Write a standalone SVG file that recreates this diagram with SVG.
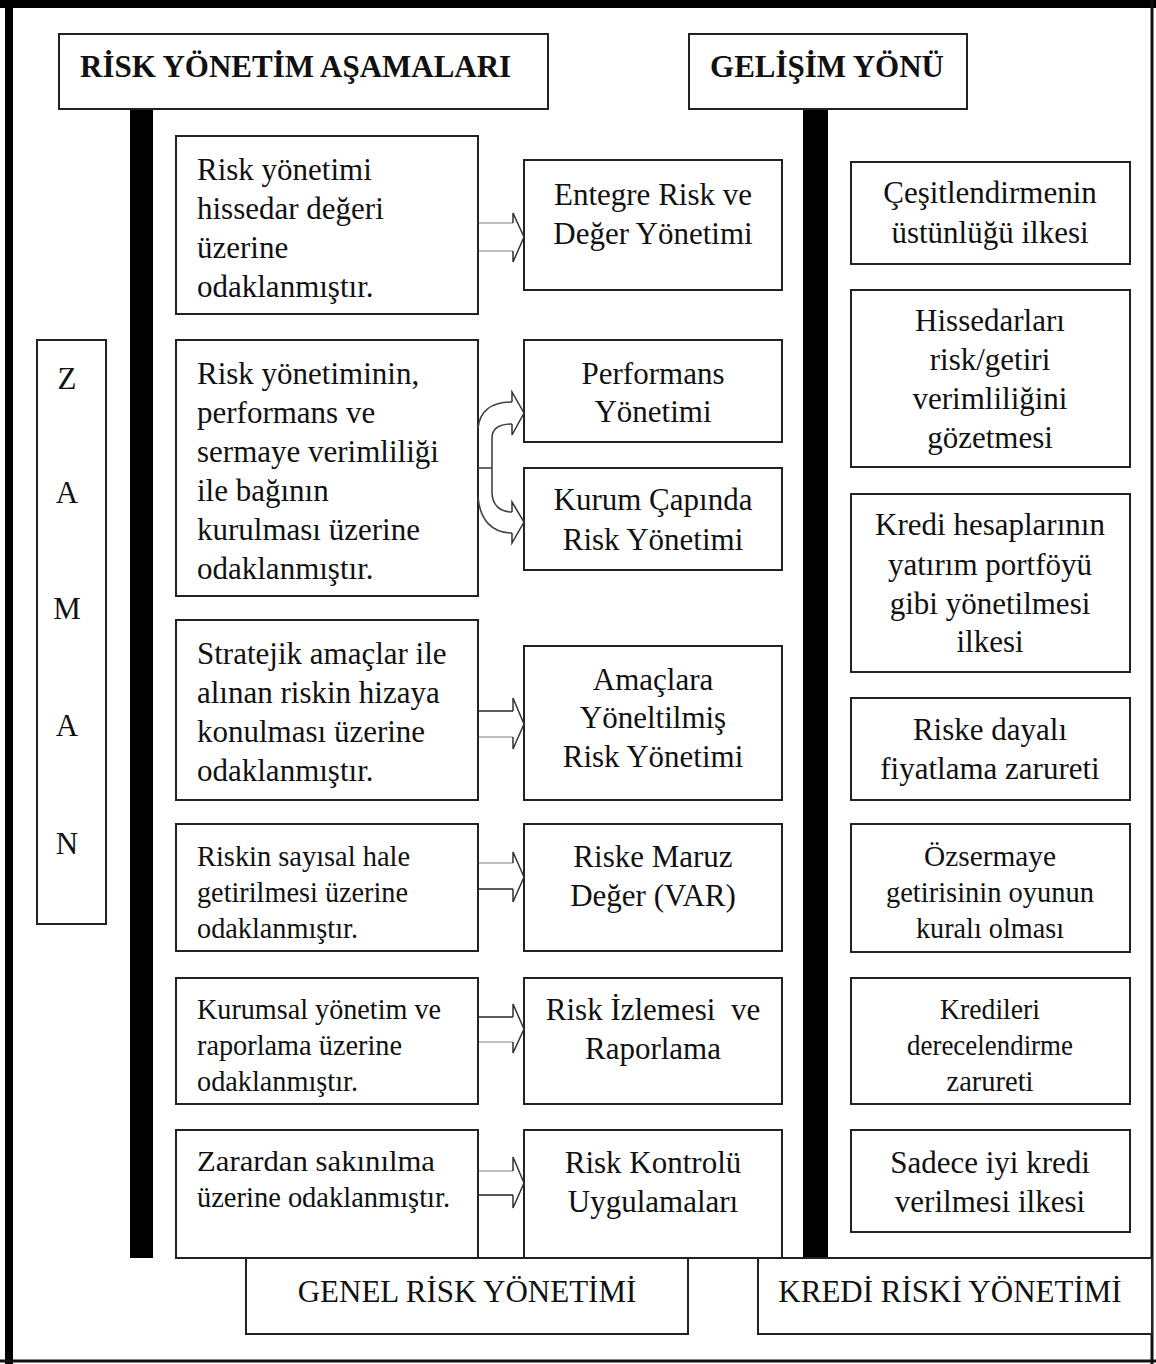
<svg xmlns="http://www.w3.org/2000/svg" width="1156" height="1364" viewBox="0 0 1156 1364">
<style>
.bx{fill:#fff;stroke:#222;stroke-width:2}
.bar{fill:#000}
.t{font-family:"Liberation Serif","Times New Roman",serif;font-size:31px;fill:#111}
.n{font-size:30px}
.c{text-anchor:middle}
.h{font-weight:bold;font-size:31px}
.sh{fill:none;stroke-width:1.6}
.g{stroke:#a8a8a8}
.k{stroke:#222}
.hd{fill:none;stroke:#333;stroke-width:1.5;stroke-linejoin:miter}
.cv{fill:none;stroke:#444;stroke-width:1.6}
</style>
<rect x="0" y="0" width="1156" height="1364" fill="#fff"/>
<g id="frame">
<line x1="0" y1="4" x2="1156" y2="4" stroke="#000" stroke-width="8"/>
<line x1="9" y1="0" x2="9" y2="1364" stroke="#000" stroke-width="8"/>
<line x1="1152" y1="0" x2="1152" y2="1364" stroke="#111" stroke-width="3"/>
<line x1="0" y1="1361" x2="1156" y2="1361" stroke="#111" stroke-width="3"/>
</g>
<g id="bars">
<rect class="bar" x="130" y="108" width="23" height="1150"/>
<rect class="bar" x="803" y="108" width="25" height="1150"/>
<line x1="176" y1="1258" x2="1152" y2="1258" stroke="#222" stroke-width="2"/>
</g>
<g id="hdr-risk"><rect class="bx" x="59" y="34" width="489" height="75"/><text class="t h" x="80" y="77">RİSK YÖNETİM AŞAMALARI</text></g>
<g id="hdr-gelisim"><rect class="bx" x="689" y="34" width="278" height="75"/><text class="t h c" x="827" y="77">GELİŞİM YÖNÜ</text></g>
<g id="zaman"><rect class="bx" x="37" y="340" width="69" height="584"/>
<text class="t c" x="67" y="389">Z</text><text class="t c" x="67" y="503">A</text><text class="t c" x="67" y="619">M</text><text class="t c" x="67" y="736">A</text><text class="t c" x="67" y="854">N</text></g>

<g id="l1"><rect class="bx" x="176" y="136" width="302" height="178"/>
<text class="t" x="197" y="180">Risk yönetimi</text><text class="t" x="197" y="219">hissedar değeri</text><text class="t" x="197" y="258">üzerine</text><text class="t" x="197" y="297">odaklanmıştır.</text></g>
<g id="l2"><rect class="bx" x="176" y="340" width="302" height="256"/>
<text class="t" x="197" y="384">Risk yönetiminin,</text><text class="t" x="197" y="423">performans ve</text><text class="t" x="197" y="462">sermaye verimliliği</text><text class="t" x="197" y="501">ile bağının</text><text class="t" x="197" y="540">kurulması üzerine</text><text class="t" x="197" y="579">odaklanmıştır.</text></g>
<g id="l3"><rect class="bx" x="176" y="620" width="302" height="180"/>
<text class="t" x="197" y="664">Stratejik amaçlar ile</text><text class="t" x="197" y="703">alınan riskin hizaya</text><text class="t" x="197" y="742">konulması üzerine</text><text class="t" x="197" y="781">odaklanmıştır.</text></g>
<g id="l4"><rect class="bx" x="176" y="824" width="302" height="127"/>
<text class="t n" x="197" y="866" textLength="213" lengthAdjust="spacingAndGlyphs">Riskin sayısal hale</text><text class="t n" x="197" y="902" textLength="211" lengthAdjust="spacingAndGlyphs">getirilmesi üzerine</text><text class="t n" x="197" y="938" textLength="161" lengthAdjust="spacingAndGlyphs">odaklanmıştır.</text></g>
<g id="l5"><rect class="bx" x="176" y="978" width="302" height="126"/>
<text class="t n" x="197" y="1019" textLength="244" lengthAdjust="spacingAndGlyphs">Kurumsal yönetim ve</text><text class="t n" x="197" y="1055" textLength="205" lengthAdjust="spacingAndGlyphs">raporlama üzerine</text><text class="t n" x="197" y="1091" textLength="161" lengthAdjust="spacingAndGlyphs">odaklanmıştır.</text></g>
<g id="l6"><rect class="bx" x="176" y="1130" width="302" height="128"/>
<text class="t n" x="197" y="1171" textLength="238" lengthAdjust="spacingAndGlyphs">Zarardan sakınılma</text><text class="t n" x="197" y="1207" textLength="253" lengthAdjust="spacingAndGlyphs">üzerine odaklanmıştır.</text></g>

<g id="m1"><rect class="bx" x="524" y="160" width="258" height="130"/><text class="t c" x="653" y="205">Entegre Risk ve</text><text class="t c" x="653" y="244">Değer Yönetimi</text></g>
<g id="m2"><rect class="bx" x="524" y="340" width="258" height="102"/><text class="t c" x="653" y="384">Performans</text><text class="t c" x="653" y="422">Yönetimi</text></g>
<g id="m3"><rect class="bx" x="524" y="468" width="258" height="102"/><text class="t c" x="653" y="510">Kurum Çapında</text><text class="t c" x="653" y="550">Risk Yönetimi</text></g>
<g id="m4"><rect class="bx" x="524" y="646" width="258" height="154"/><text class="t c" x="653" y="690">Amaçlara</text><text class="t c" x="653" y="728">Yöneltilmiş</text><text class="t c" x="653" y="767">Risk Yönetimi</text></g>
<g id="m5"><rect class="bx" x="524" y="824" width="258" height="127"/><text class="t c" x="653" y="867">Riske Maruz</text><text class="t c" x="653" y="906">Değer (VAR)</text></g>
<g id="m6"><rect class="bx" x="524" y="978" width="258" height="126"/><text class="t c" x="653" y="1020" xml:space="preserve">Risk İzlemesi  ve</text><text class="t c" x="653" y="1059">Raporlama</text></g>
<g id="m7"><rect class="bx" x="524" y="1130" width="258" height="128"/><text class="t c" x="653" y="1173">Risk Kontrolü</text><text class="t c" x="653" y="1212">Uygulamaları</text></g>

<g id="r1"><rect class="bx" x="851" y="162" width="279" height="102"/><text class="t c" x="990" y="203">Çeşitlendirmenin</text><text class="t c" x="990" y="243">üstünlüğü ilkesi</text></g>
<g id="r2"><rect class="bx" x="851" y="290" width="279" height="177"/><text class="t c" x="990" y="331">Hissedarları</text><text class="t c" x="990" y="370">risk/getiri</text><text class="t c" x="990" y="409">verimliliğini</text><text class="t c" x="990" y="448">gözetmesi</text></g>
<g id="r3"><rect class="bx" x="851" y="494" width="279" height="178"/><text class="t c" x="990" y="535">Kredi hesaplarının</text><text class="t c" x="990" y="575">yatırım portföyü</text><text class="t c" x="990" y="614">gibi yönetilmesi</text><text class="t c" x="990" y="652">ilkesi</text></g>
<g id="r4"><rect class="bx" x="851" y="698" width="279" height="102"/><text class="t c" x="990" y="740">Riske dayalı</text><text class="t c" x="990" y="779">fiyatlama zarureti</text></g>
<g id="r5"><rect class="bx" x="851" y="824" width="279" height="128"/><text class="t n c" x="990" y="866" textLength="132" lengthAdjust="spacingAndGlyphs">Özsermaye</text><text class="t n c" x="990" y="902" textLength="208" lengthAdjust="spacingAndGlyphs">getirisinin oyunun</text><text class="t n c" x="990" y="938" textLength="148" lengthAdjust="spacingAndGlyphs">kuralı olması</text></g>
<g id="r6"><rect class="bx" x="851" y="978" width="279" height="126"/><text class="t n c" x="990" y="1019" textLength="100" lengthAdjust="spacingAndGlyphs">Kredileri</text><text class="t n c" x="990" y="1055" textLength="166" lengthAdjust="spacingAndGlyphs">derecelendirme</text><text class="t n c" x="990" y="1091" textLength="87" lengthAdjust="spacingAndGlyphs">zarureti</text></g>
<g id="r7"><rect class="bx" x="851" y="1130" width="279" height="102"/><text class="t c" x="990" y="1173">Sadece iyi kredi</text><text class="t c" x="990" y="1212">verilmesi ilkesi</text></g>

<g id="genel"><rect class="bx" x="246" y="1258" width="442" height="76"/><text class="t c" x="467" y="1302">GENEL RİSK YÖNETİMİ</text></g>
<g id="kredi"><rect class="bx" x="758" y="1258" width="394" height="76"/><text class="t c" x="950" y="1302">KREDİ RİSKİ YÖNETİMİ</text></g>

<g id="connectors">
<line class="sh g" x1="479" y1="223" x2="513" y2="223"/><line class="sh g" x1="479" y1="251" x2="513" y2="251"/>
<path class="hd" d="M513,223 L513,213 L524,237 L513,262 L513,251"/>

<line class="sh k" x1="479" y1="711" x2="513" y2="711"/><line class="sh g" x1="479" y1="737" x2="513" y2="737"/>
<path class="hd" d="M513,711 L513,698 L524,724 L513,749 L513,737"/>

<line class="sh g" x1="479" y1="863" x2="513" y2="863"/><line class="sh k" x1="479" y1="889" x2="513" y2="889"/>
<path class="hd" d="M513,863 L513,852 L524,877 L513,902 L513,889"/>

<line class="sh k" x1="479" y1="1017" x2="513" y2="1017"/><line class="sh g" x1="479" y1="1042" x2="513" y2="1042"/>
<path class="hd" d="M513,1017 L513,1004 L524,1029 L513,1053 L513,1042"/>

<line class="sh g" x1="479" y1="1171" x2="513" y2="1171"/><line class="sh k" x1="479" y1="1195" x2="513" y2="1195"/>
<path class="hd" d="M513,1171 L513,1157 L524,1183 L513,1208 L513,1195"/>

<path class="cv" d="M478,428 C480,410 492,402 512,402"/>
<path class="cv" d="M512,424 C500,424 492,428 492,438 L492,492 C492,505 500,512 512,512"/>
<path class="cv" d="M478,497 C480,520 492,533 512,533"/>
<line class="cv" x1="478" y1="468" x2="492" y2="468"/>
<path class="hd" d="M512,402 L512,392 L524,413 L512,435 L512,424"/>
<path class="hd" d="M512,512 L512,502 L524,522 L512,543 L512,533"/>
</g>
</svg>
